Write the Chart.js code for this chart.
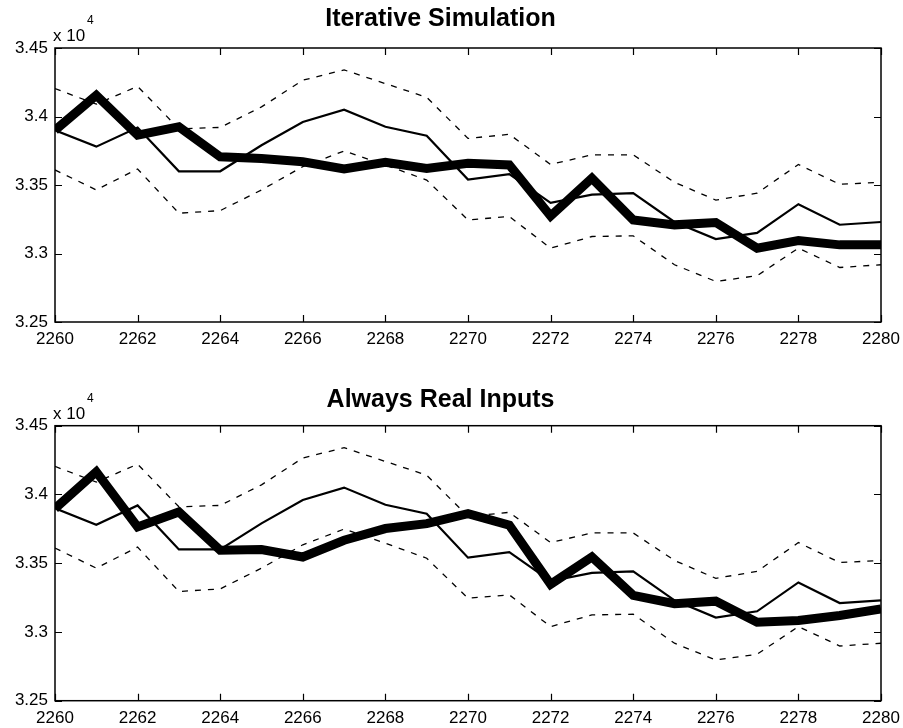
<!DOCTYPE html>
<html>
<head>
<meta charset="utf-8">
<script src="https://cdn.jsdelivr.net/npm/chart.js@4.4.1/dist/chart.umd.min.js"></script>
<style>
  html, body { margin: 0; padding: 0; background: #fff; }
  .box { position: absolute; left: 0; width: 903px; }
  #top { top: 0; height: 360px; }
  #bottom { top: 360px; height: 368px; }
</style>
</head>
<body>
<div class="box" id="top"><canvas id="iterChart"></canvas></div>
<div class="box" id="bottom"><canvas id="realChart"></canvas></div>
<script>
// valores en unidades de 10^4
const years = [2260, 2261, 2262, 2263, 2264, 2265, 2266, 2267, 2268, 2269, 2270,
               2271, 2272, 2273, 2274, 2275, 2276, 2277, 2278, 2279, 2280];

const actual = [3.390, 3.378, 3.392, 3.360, 3.360, 3.379, 3.396, 3.405, 3.3925, 3.386, 3.354,
                3.358, 3.337, 3.343, 3.344, 3.323, 3.3105, 3.315, 3.336, 3.321, 3.323];

const upperBound = [3.4204, 3.409, 3.422, 3.391, 3.392, 3.407, 3.4265, 3.434, 3.424, 3.414, 3.384,
                    3.387, 3.365, 3.372, 3.372, 3.352, 3.339, 3.344, 3.365, 3.3505, 3.352];

const lowerBound = [3.361, 3.3464, 3.3617, 3.3294, 3.3313, 3.3464, 3.3634, 3.3748, 3.3646, 3.3536, 3.3245,
                    3.327, 3.3039, 3.3124, 3.3129, 3.2918, 3.2796, 3.2838, 3.3039, 3.2898, 3.2918];

const iterativeSim = [3.390, 3.4155, 3.3864, 3.3925, 3.3706, 3.3694, 3.367, 3.3617, 3.3665, 3.362, 3.3658,
                      3.3646, 3.3274, 3.3549, 3.3245, 3.3209, 3.3226, 3.3039, 3.3095, 3.3063, 3.3063];

const realInputsSim = [3.3897, 3.4165, 3.3764, 3.3873, 3.3594, 3.360, 3.3545, 3.3667, 3.3752, 3.3788, 3.3861,
                       3.3776, 3.3346, 3.3545, 3.3266, 3.3205, 3.3224, 3.3071, 3.3083, 3.312, 3.3168];

const xTicks = [2260, 2262, 2264, 2266, 2268, 2270, 2272, 2274, 2276, 2278, 2280];
const yTicks = [3.25, 3.3, 3.35, 3.4, 3.45];

const FONT = '"Liberation Sans", Arial, sans-serif';

// marco tipo MATLAB: caja, ticks hacia dentro y el "x 10^4"
const matlabAxes = {
  id: 'matlabAxes',
  afterDatasetsDraw(chart) {
    const { ctx, chartArea: a, scales: { x, y } } = chart;
    ctx.save();
    ctx.strokeStyle = '#000';
    ctx.lineWidth = 1.5;
    ctx.strokeRect(a.left, a.top, a.right - a.left, a.bottom - a.top);
    ctx.lineWidth = 1.2;
    ctx.beginPath();
    x.ticks.forEach(t => {
      const px = Math.round(x.getPixelForValue(t.value)) + 0.5;
      ctx.moveTo(px, a.bottom); ctx.lineTo(px, a.bottom - 7);
      ctx.moveTo(px, a.top); ctx.lineTo(px, a.top + 7);
    });
    y.ticks.forEach(t => {
      const py = Math.round(y.getPixelForValue(t.value)) + 0.5;
      ctx.moveTo(a.left, py); ctx.lineTo(a.left + 7, py);
      ctx.moveTo(a.right, py); ctx.lineTo(a.right - 7, py);
    });
    ctx.stroke();

    ctx.fillStyle = '#000';
    ctx.textBaseline = 'alphabetic';
    ctx.textAlign = 'left';
    ctx.font = '17px ' + FONT;
    ctx.fillText('x 10', a.left - 2, a.top - 7);
    ctx.font = '12px ' + FONT;
    ctx.fillText('4', a.left + 32, a.top - 24);
    ctx.restore();
  }
};

function makeChart(canvasId, title, simData, titlePad, xHeight) {
  const ctx = document.getElementById(canvasId).getContext('2d');
  return new Chart(ctx, {
    type: 'line',
    data: {
      labels: years,
      datasets: [
        {
          label: 'Simulated',
          data: simData,
          borderColor: '#000',
          borderWidth: 9,
          borderJoinStyle: 'miter',
          pointRadius: 0,
          fill: false,
          tension: 0,
          clip: 0,
        },
        {
          label: 'Real',
          data: actual,
          borderColor: '#000',
          borderWidth: 2.2,
          pointRadius: 0,
          fill: false,
          tension: 0,
          clip: 0,
        },
        {
          label: 'Upper',
          data: upperBound,
          borderColor: '#000',
          borderWidth: 1.3,
          borderDash: [6, 7],
          pointRadius: 0,
          fill: false,
          tension: 0,
          clip: 0,
        },
        {
          label: 'Lower',
          data: lowerBound,
          borderColor: '#000',
          borderWidth: 1.3,
          borderDash: [6, 7],
          pointRadius: 0,
          fill: false,
          tension: 0,
          clip: 0,
        }
      ]
    },
    options: {
      responsive: true,
      maintainAspectRatio: false,
      animation: false,
      devicePixelRatio: 1,
      layout: { padding: { left: 0, right: 22, top: 0, bottom: 0 } },
      plugins: {
        legend: { display: false },
        tooltip: { enabled: false },
        title: {
          display: true,
          text: title,
          color: '#000',
          font: { family: FONT, size: 25, weight: 'bold', lineHeight: 1.2 },
          padding: titlePad
        }
      },
      scales: {
        x: {
          type: 'linear',
          min: 2260,
          max: 2280,
          grid: { display: false, drawTicks: false },
          border: { display: false },
          afterBuildTicks: s => { s.ticks = xTicks.map(v => ({ value: v })); },
          afterFit: s => { s.height = xHeight; s.paddingRight = 0; s.paddingLeft = 0; },
          ticks: {
            color: '#000',
            padding: 7,
            maxRotation: 0,
            font: { family: FONT, size: 17 },
            callback: v => String(v)
          }
        },
        y: {
          min: 3.25,
          max: 3.45,
          grid: { display: false, drawTicks: false },
          border: { display: false },
          afterBuildTicks: s => { s.ticks = yTicks.map(v => ({ value: v })); },
          afterFit: s => { s.width = 55; },
          ticks: {
            color: '#000',
            padding: 7,
            font: { family: FONT, size: 17 },
            callback: v => String(+v.toFixed(2))
          }
        }
      }
    },
    plugins: [matlabAxes]
  });
}

makeChart('iterChart', 'Iterative Simulation', iterativeSim, { top: 4.5, bottom: 13.5 }, 38);
makeChart('realChart', 'Always Real Inputs', realInputsSim, { top: 25, bottom: 10.7 }, 27.3);
</script>
</body>
</html>
